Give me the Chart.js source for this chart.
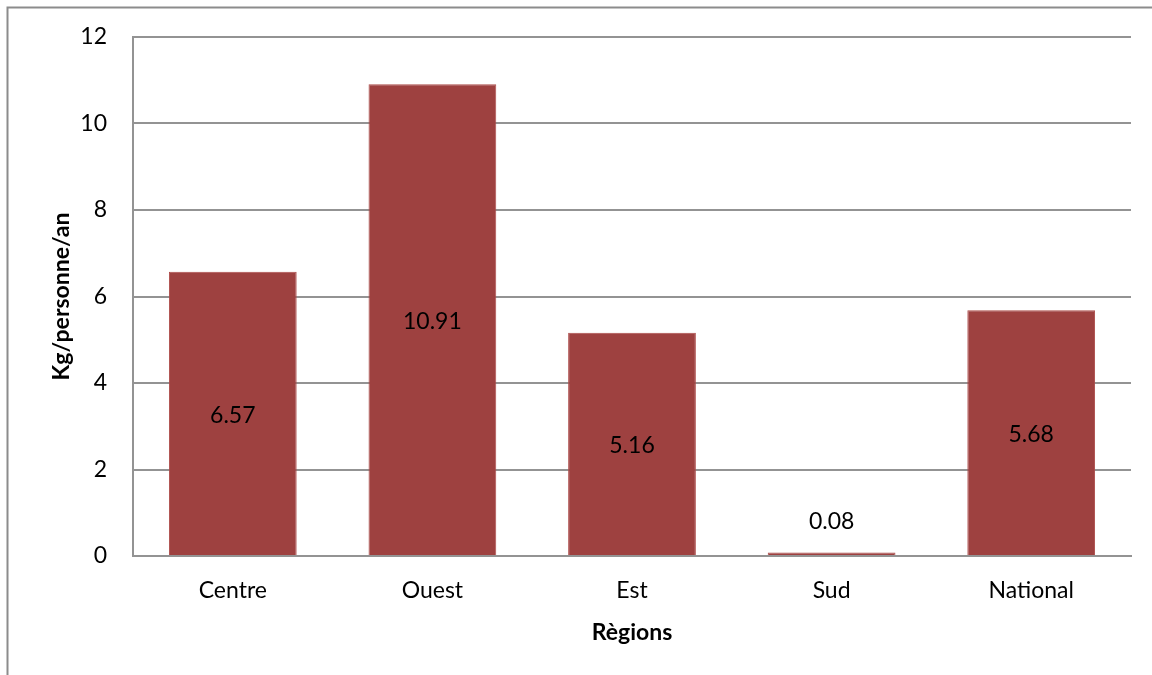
<!DOCTYPE html>
<html lang="fr">
<head>
<meta charset="utf-8">
<title>Kg/personne/an par région</title>
<script src="https://cdn.jsdelivr.net/npm/chart.js@4/dist/chart.umd.min.js"></script>
<style>
  html, body { margin: 0; padding: 0; background: #ffffff; }
  #wrap { width: 1152px; height: 675px; position: relative; }
</style>
</head>
<body>
<div id="wrap"><canvas id="c" width="1152" height="675"></canvas></div>
<script>
// Regions and consumption (kg per person per year)
const regions = ['Centre', 'Ouest', 'Est', 'Sud', 'National'];
const kgParPersonne = [6.57, 10.91, 5.16, 0.08, 5.68];
const yTicks = [0, 2, 4, 6, 8, 10, 12];

const FONT = 'Lato, "Liberation Sans", sans-serif';
const GRID = '#939393';

// Outer frame of the chart
const framePlugin = {
  id: 'frame',
  beforeDraw(chart) {
    const ctx = chart.ctx;
    ctx.save();
    ctx.strokeStyle = '#8c8c8c';
    ctx.lineWidth = 2;
    ctx.strokeRect(7.5, 7.5, 1200, 700);
    ctx.restore();
  }
};

// Value labels: centred in the bar, or above it when the bar is too short
const valueLabels = {
  id: 'valueLabels',
  afterDatasetsDraw(chart) {
    const ctx = chart.ctx;
    const meta = chart.getDatasetMeta(0);
    ctx.save();
    ctx.font = '23px ' + FONT;
    ctx.fillStyle = '#000000';
    ctx.textAlign = 'center';
    ctx.textBaseline = 'middle';
    meta.data.forEach((bar, i) => {
      const v = kgParPersonne[i];
      const h = Math.abs(bar.base - bar.y);
      const y = h > 40 ? (bar.y + bar.base) / 2 + 2 : bar.y - 31;
      ctx.fillText(v.toFixed(2), bar.x, y);
    });
    ctx.restore();
  }
};

new Chart(document.getElementById('c'), {
  type: 'bar',
  data: {
    labels: regions,
    datasets: [{
      data: kgParPersonne,
      backgroundColor: '#9e4140',
      borderColor: '#ad4c4a',
      borderWidth: 1,
      barPercentage: 0.64,
      categoryPercentage: 1.0
    }]
  },
  options: {
    responsive: false,
    devicePixelRatio: 1,
    animation: false,
    layout: { padding: { left: 0, top: 37, right: 21, bottom: 0 } },
    plugins: {
      legend: { display: false },
      tooltip: { enabled: false }
    },
    scales: {
      x: {
        grid: { display: false },
        border: { display: true, color: GRID, width: 2 },
        ticks: { color: '#000', padding: 13, font: { family: FONT, size: 23 } },
        title: {
          display: true,
          text: 'Règions',
          color: '#000',
          font: { family: FONT, size: 23, weight: 'bold' },
          padding: { top: 0, bottom: 29 }
        },
        afterFit(scale) { scale.height = 119; }
      },
      y: {
        min: 0,
        max: 12,
        afterBuildTicks(scale) { scale.ticks = yTicks.map(v => ({ value: v })); },
        grid: { color: GRID, lineWidth: 2, drawTicks: false },
        border: { display: true, color: GRID, width: 2 },
        ticks: { color: '#000', padding: 26, font: { family: FONT, size: 23 } },
        title: {
          display: true,
          text: 'Kg/personne/an',
          color: '#000',
          font: { family: FONT, size: 23, weight: 'bold' },
          padding: { top: 48, bottom: 0 }
        },
        afterFit(scale) {
          scale.width = 133;
          scale.paddingTop = 0;
          scale.paddingBottom = 0;
        }
      }
    }
  },
  plugins: [framePlugin, valueLabels]
});
</script>
</body>
</html>
